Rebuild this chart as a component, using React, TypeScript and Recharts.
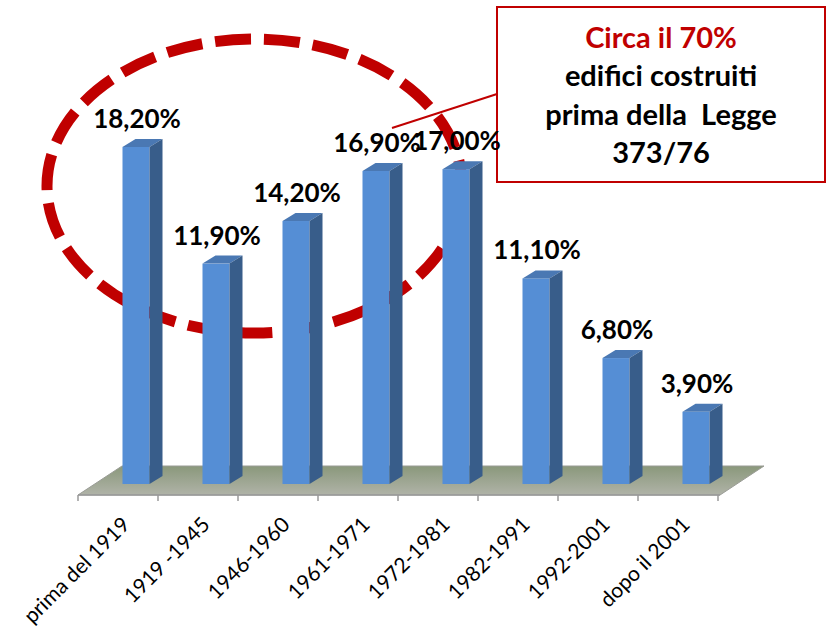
import React from 'react';
import { BarChart, Bar, XAxis, YAxis, LabelList, Customized } from 'recharts';

const categories = ['prima del 1919', '1919 -1945', '1946-1960', '1961-1971', '1972-1981', '1982-1991', '1992-2001', 'dopo il 2001'];
const values = [18.2, 11.9, 14.2, 16.9, 17.0, 11.1, 6.8, 3.9];
const yDomain = [0, 20];
const calloutTitle = 'Circa il 70%';
const calloutLines = ['edifici costruiti', 'prima della  Legge', '373/76'];

const data = categories.map((c, i) => ({ name: c, value: values[i] }));

const W = 826;
const H = 632;
const X_AXIS_H = 30;
const M = { top: 113.6, right: 90.5, bottom: 118, left: 95.5 };
const PLOT_L = M.left;
const PLOT_R = W - M.right;
const PLOT_B = H - M.bottom - X_AXIS_H;
const BAND = (PLOT_R - PLOT_L) / categories.length;
const DX = 13;
const DY = 8;
const FONT = 'Lato, "Open Sans", sans-serif';
const RED = '#c00000';

const fmt = (v: number) => v.toFixed(2).replace('.', ',') + '%';

function Bar3D(props: any) {
  const { x, y, width, height } = props;
  if (!height || height <= 0) return null;
  return (
    <g>
      <rect x={x} y={y} width={width} height={height} fill="#558ed5" />
      <polygon points={`${x},${y} ${x + DX},${y - DY} ${x + width + DX},${y - DY} ${x + width},${y}`} fill="#4a78b3" />
      <polygon
        points={`${x + width},${y} ${x + width + DX},${y - DY} ${x + width + DX},${y + height - DY} ${x + width},${y + height}`}
        fill="#385d8a"
      />
    </g>
  );
}

function ValueLabel(props: any) {
  const { x, y, width, value } = props;
  return (
    <text x={x + width / 2 + 1} y={y - 19} textAnchor="middle" fontFamily={FONT} fontWeight="bold" fontSize={26} fill="#000">
      {fmt(value)}
    </text>
  );
}

function CatTick(props: any) {
  const { x, payload } = props;
  const ex = x - 17.5 + 13;
  const ey = PLOT_B + 42;
  return (
    <text x={ex} y={ey} textAnchor="end" transform={`rotate(-45 ${ex} ${ey})`} fontFamily={FONT} fontSize={21} fill="#000">
      {payload.value}
    </text>
  );
}

function Floor() {
  const fx0 = PLOT_L - 17.5;
  const fx1 = PLOT_R - 15.5;
  const fy = PLOT_B + 11;
  const bx = 44;
  const by = 29;
  const ticks = Array.from({ length: categories.length + 1 }, (_, i) => fx0 + i * BAND);
  return (
    <g>
      <defs>
        <linearGradient id="floorGrad" x1="0" y1="0" x2="0" y2="1">
          <stop offset="0" stopColor="#8a987b" />
          <stop offset="1" stopColor="#b0b3a8" />
        </linearGradient>
      </defs>
      <polygon
        points={`${fx0},${fy} ${fx0 + bx},${fy - by} ${fx1 + bx},${fy - by} ${fx1},${fy}`}
        fill="url(#floorGrad)"
        stroke="#9a9c96"
        strokeWidth={1}
      />
      <line x1={fx0} y1={fy} x2={fx1} y2={fy} stroke="#9a9a9a" strokeWidth={1.5} />
      {ticks.map((t, i) => (
        <line key={i} x1={t} y1={fy} x2={t} y2={fy + 6} stroke="#9a9a9a" strokeWidth={1.5} />
      ))}
    </g>
  );
}

function Callout() {
  const bx = 497;
  const by = 7;
  const bw = 328;
  const bh = 175;
  const cx = bx + bw / 2;
  return (
    <g>
      <rect x={bx} y={by} width={bw} height={bh} fill="#fff" stroke={RED} strokeWidth={2} />
      <text x={cx} y={48} textAnchor="middle" fontFamily={FONT} fontWeight="bold" fontSize={29} fill={RED}>
        {calloutTitle}
      </text>
      {calloutLines.map((l, i) => (
        <text
          key={i}
          x={cx}
          y={86 + i * 38.5}
          textAnchor="middle"
          fontFamily={FONT}
          fontWeight="bold"
          fontSize={29}
          fill="#000"
          style={{ whiteSpace: 'pre' }}
        >
          {l}
        </text>
      ))}
    </g>
  );
}

function Highlight() {
  return (
    <g>
      <line x1={497} y1={94} x2={392} y2={128} stroke={RED} strokeWidth={2} />
      <ellipse
        cx={254.5}
        cy={186}
        rx={207.5}
        ry={147}
        fill="none"
        stroke={RED}
        strokeWidth={11}
        strokeDasharray="36 13"
        strokeDashoffset={-17.5}
      />
    </g>
  );
}

export default function App() {
  return (
    <div style={{ position: 'absolute', left: 0, top: 0, width: W, height: H, background: '#fff' }}>
      <BarChart width={W} height={H} data={data} margin={M} barSize={27}>
        <Customized component={<Floor />} />
        <Customized component={<Callout />} />
        <YAxis hide domain={yDomain} />
        <XAxis
          dataKey="name"
          height={X_AXIS_H}
          axisLine={false}
          tickLine={false}
          tickSize={0}
          interval={0}
          tick={<CatTick />}
        />
        <Bar dataKey="value" shape={<Bar3D />} isAnimationActive={false}>
          <LabelList dataKey="value" content={<ValueLabel />} />
        </Bar>
        <Customized component={<Highlight />} />
      </BarChart>
    </div>
  );
}
